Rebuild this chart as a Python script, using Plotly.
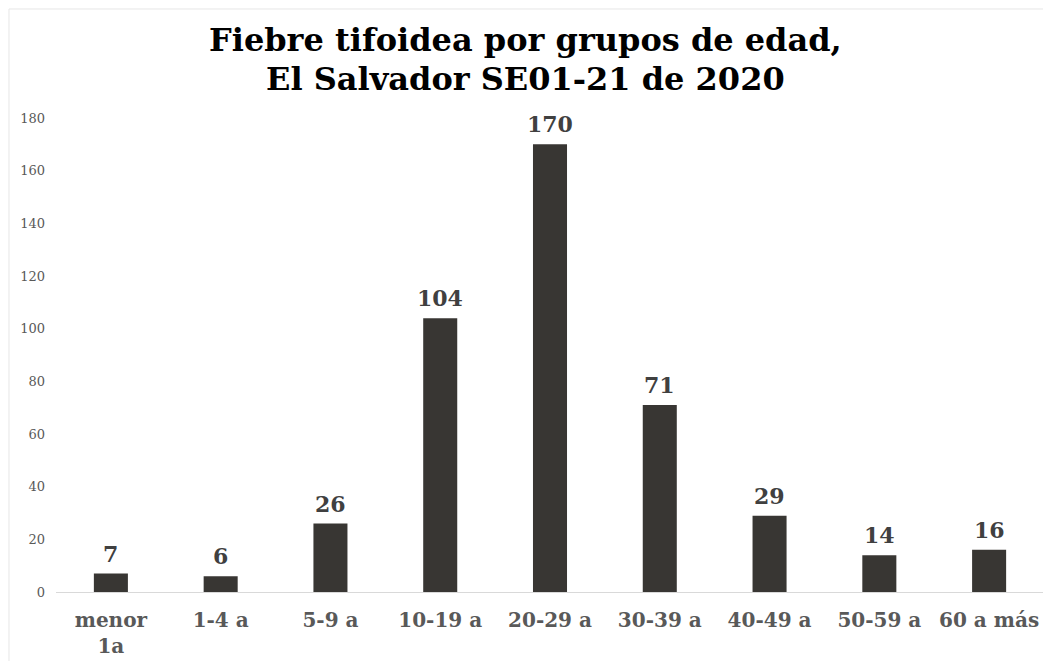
import plotly.graph_objects as go

categories = ["menor<br>1a", "1-4 a", "5-9 a", "10-19 a", "20-29 a", "30-39 a", "40-49 a", "50-59 a", "60 a más"]
casos = [7, 6, 26, 104, 170, 71, 29, 14, 16]
y_ticks = [0, 20, 40, 60, 80, 100, 120, 140, 160, 180]
title_lines = ["Fiebre tifoidea por grupos de edad,", "El Salvador SE01-21 de 2020"]

SERIF = "DejaVu Serif"

fig = go.Figure()
fig.add_trace(go.Bar(
    x=categories, y=casos,
    marker=dict(color="#383633", line=dict(width=0)),
    width=0.31,
    hoverinfo="x+y",
))

annotations = [
    dict(x=c, y=v, xref="x", yref="y", text=f"<b>{v}</b>", showarrow=False,
         xanchor="center", yanchor="bottom", yshift=5,
         font=dict(family=SERIF, size=22, color="#404040"))
    for c, v in zip(categories, casos)
]
for line, ypos in zip(title_lines, [1.1645, 1.0823]):
    annotations.append(dict(
        text=f"<b>{line}</b>", xref="paper", yref="paper", x=0.4747, y=ypos,
        xanchor="center", yanchor="middle", showarrow=False,
        font=dict(family=SERIF, size=32, color="#000000"),
    ))

fig.update_layout(
    width=1043, height=653,
    paper_bgcolor="white", plot_bgcolor="white",
    margin=dict(l=48, r=7, t=110, b=69, autoexpand=False),
    showlegend=False,
    xaxis=dict(
        showline=True, linecolor="#d9d9d9", linewidth=1,
        ticks="", showgrid=False, automargin=False,
        tickfont=dict(family=SERIF, size=20, color="#595959"),
        tickprefix="<b>", ticksuffix="</b>",
        ticklabelstandoff=10,
    ),
    yaxis=dict(
        range=[0, 180], tickvals=y_ticks, showgrid=False, zeroline=False,
        automargin=False,
        tickfont=dict(family=SERIF, size=13, color="#595959"),
        ticklabelstandoff=10,
    ),
    annotations=annotations,
    shapes=[dict(type="rect", xref="paper", yref="paper", x0=-0.0476, x1=1.02, y0=-0.3, y1=1.23,
                 line=dict(color="#e6e6e6", width=1), fillcolor="rgba(0,0,0,0)", layer="below")],
)

fig.write_html("out.html")
